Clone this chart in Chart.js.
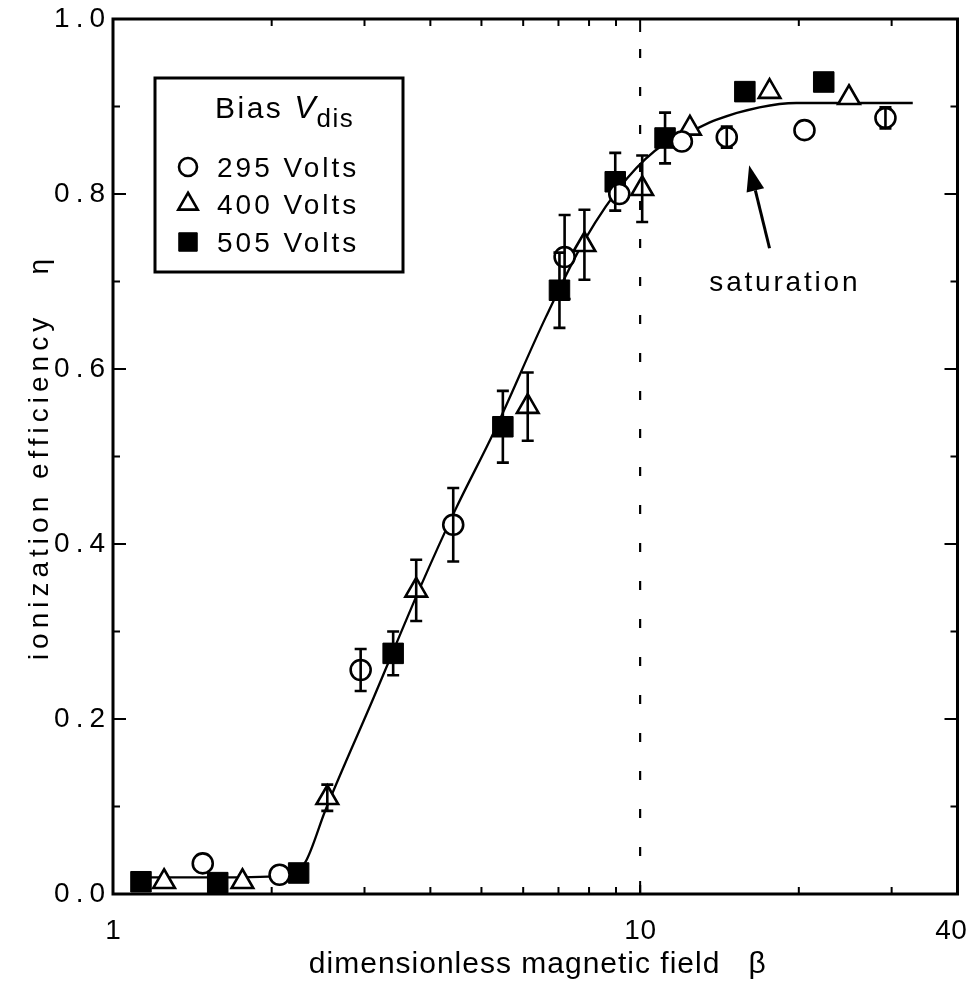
<!DOCTYPE html>
<html>
<head>
<meta charset="utf-8">
<style>
html,body{margin:0;padding:0;background:#fff;}
#wrap{width:973px;height:996px;position:relative;}
</style>
<script src="https://cdn.jsdelivr.net/npm/chart.js@4.4.1/dist/chart.umd.min.js"></script>
</head>
<body>
<div id="wrap"><canvas id="c" width="973" height="996"></canvas></div>
<script>
// ---- data ----
const beta295 = [1.48, 2.07, 2.95, 4.42, 7.19, 9.13, 12.0, 14.6, 20.5, 29.2];
const eta295  = [0.035, 0.022, 0.256, 0.422, 0.728, 0.800, 0.860, 0.865, 0.873, 0.887];
const err295  = [0, 0, 0.024, 0.042, 0.048, 0, 0, 0.012, 0, 0.012];

const beta400 = [1.25, 1.76, 2.55, 3.76, 6.12, 7.84, 10.09, 12.43, 17.6, 24.9];
const eta400  = [0.014, 0.014, 0.110, 0.347, 0.557, 0.742, 0.806, 0.875, 0.917, 0.910];
const err400  = [0, 0, 0.015, 0.035, 0.039, 0.040, 0.038, 0, 0, 0];

const beta505 = [1.13, 1.58, 2.25, 3.40, 5.49, 7.03, 8.97, 11.15, 15.8, 22.3];
const eta505  = [0.014, 0.013, 0.024, 0.275, 0.534, 0.690, 0.814, 0.864, 0.917, 0.928];
const err505  = [0, 0, 0, 0.025, 0.041, 0.043, 0.033, 0.029, 0, 0];

const fitBeta = [1.13, 1.59, 2.16, 2.32, 2.53, 3.12, 3.83, 4.46, 5.30, 6.62, 7.84, 9.45, 11.15, 12.43, 13.97, 16.84, 19.78, 32.9];
const fitEta  = [0.019, 0.019, 0.021, 0.037, 0.096, 0.224, 0.351, 0.439, 0.530, 0.659, 0.747, 0.818, 0.858, 0.871, 0.885, 0.899, 0.904, 0.904];

const refLineBeta = 10;
const xTickValues = [1, 10, 40];
const xMinorValues = [2, 3, 4, 5, 6, 7, 8, 9, 20, 30];
const yMajorValues = [0, 0.2, 0.4, 0.6, 0.8, 1.0];
const yMinorValues = [0.1, 0.3, 0.5, 0.7, 0.9];

const seriesLabels = ['295 Volts', '400 Volts', '505 Volts'];
const legendTitle = 'Bias';
const legendSymbol = 'V';
const legendSub = 'dis';

const annotationText = 'saturation';
const annotationTextAt = [18.7, 0.698];
const arrowTail = [17.6, 0.738];
const arrowTip = [16.1, 0.833];

const xTitle = 'dimensionless magnetic field   \u03B2';
const yTitle = 'ionization efficiency   \u03B7';

// ---- helpers ----
const FONT = "'Liberation Sans', Arial, Helvetica, sans-serif";
const toPts = (bs, es) => bs.map((b, i) => ({x: b, y: es[i]}));
const errs = [err295, err400, err505];

const markerStyles = [
  {pointStyle: 'circle', radius: 10, backgroundColor: '#fff', borderColor: '#000', borderWidth: 2.6},
  {pointStyle: 'triangle', radius: 12.5, backgroundColor: '#fff', borderColor: '#000', borderWidth: 2.6},
  {pointStyle: 'rect', radius: 14.5, backgroundColor: '#000', borderColor: '#000', borderWidth: 1}
];

function scatterDS(label, bs, es, st) {
  return {
    type: 'scatter', label, data: toPts(bs, es),
    pointStyle: st.pointStyle, pointRadius: st.radius, pointHoverRadius: st.radius,
    pointBackgroundColor: st.backgroundColor, pointBorderColor: st.borderColor,
    pointBorderWidth: st.borderWidth, showLine: false
  };
}

function drawText(ctx, str, x, y, o) {
  const size = o.size || 28, ls = o.ls || 0, align = o.align || 'center';
  ctx.save();
  ctx.translate(x, y);
  if (o.rot) ctx.rotate(o.rot);
  ctx.font = (o.italic ? 'italic ' : '') + size + 'px ' + FONT;
  ctx.letterSpacing = ls + 'px';
  ctx.textBaseline = o.baseline || 'middle';
  ctx.textAlign = 'left';
  const w = ctx.measureText(str).width - (ctx.letterSpacing ? ls : 0);
  let sx = align === 'center' ? -w / 2 : align === 'right' ? -w : 0;
  ctx.fillStyle = '#000';
  ctx.fillText(str, sx, 0);
  ctx.restore();
  return w + ls;
}

const decor = {
  id: 'decor',
  afterDatasetsDraw(chart) {
    const ctx = chart.ctx, xs = chart.scales.x, ys = chart.scales.y;
    ctx.save();
    ctx.strokeStyle = '#000'; ctx.lineWidth = 2.6;
    [0, 1, 2].forEach(di => {
      const ds = chart.data.datasets[di];
      ds.data.forEach((p, i) => {
        const e = errs[di][i];
        if (!e) return;
        const px = xs.getPixelForValue(p.x);
        const y1 = ys.getPixelForValue(p.y + e), y2 = ys.getPixelForValue(p.y - e);
        ctx.beginPath();
        ctx.moveTo(px, y1); ctx.lineTo(px, y2);
        ctx.moveTo(px - 6, y1); ctx.lineTo(px + 6, y1);
        ctx.moveTo(px - 6, y2); ctx.lineTo(px + 6, y2);
        ctx.stroke();
      });
    });
    ctx.restore();
  },
  afterDraw(chart) {
    const ctx = chart.ctx, xs = chart.scales.x, ys = chart.scales.y;
    const ca = chart.chartArea;
    ctx.save();
    // frame
    ctx.strokeStyle = '#000'; ctx.lineWidth = 3;
    ctx.strokeRect(ca.left, ca.top, ca.right - ca.left, ca.bottom - ca.top);
    // ticks inward on all four sides
    ctx.lineWidth = 2;
    ctx.beginPath();
    const xt = (v, len) => {
      const px = xs.getPixelForValue(v);
      ctx.moveTo(px, ca.bottom); ctx.lineTo(px, ca.bottom - len);
      ctx.moveTo(px, ca.top); ctx.lineTo(px, ca.top + len);
    };
    const yt = (v, len) => {
      const py = ys.getPixelForValue(v);
      ctx.moveTo(ca.left, py); ctx.lineTo(ca.left + len, py);
      ctx.moveTo(ca.right, py); ctx.lineTo(ca.right - len, py);
    };
    xTickValues.forEach(v => xt(v, 13));
    xMinorValues.forEach(v => xt(v, 7));
    yMajorValues.forEach(v => yt(v, 13));
    yMinorValues.forEach(v => yt(v, 7));
    ctx.stroke();

    // tick labels
    yMajorValues.forEach(v => {
      drawText(ctx, v.toFixed(1), ca.left - 8, ys.getPixelForValue(v), {size: 28, ls: 6, align: 'right'});
    });
    xTickValues.forEach(v => {
      let px = xs.getPixelForValue(v);
      px = Math.min(px, chart.width - 22);
      drawText(ctx, String(v), px, ca.bottom + 37, {size: 28, ls: 0.5});
    });
    // axis titles
    drawText(ctx, xTitle, (ca.left + ca.right) / 2 + 2, ca.bottom + 71, {size: 30, ls: 1});
    drawText(ctx, yTitle, 40, (ca.top + ca.bottom) / 2 + 3, {size: 28, ls: 5, rot: -Math.PI / 2});

    // annotation
    drawText(ctx, annotationText, xs.getPixelForValue(annotationTextAt[0]), ys.getPixelForValue(annotationTextAt[1]), {size: 28, ls: 2.8});
    const tx = xs.getPixelForValue(arrowTail[0]), ty = ys.getPixelForValue(arrowTail[1]);
    const hx = xs.getPixelForValue(arrowTip[0]), hy = ys.getPixelForValue(arrowTip[1]);
    const ang = Math.atan2(hy - ty, hx - tx);
    const hl = 26, hw = 9;
    const bx = hx - hl * Math.cos(ang), by = hy - hl * Math.sin(ang);
    ctx.strokeStyle = '#000'; ctx.fillStyle = '#000';
    ctx.lineWidth = 3;
    ctx.beginPath(); ctx.moveTo(tx, ty); ctx.lineTo(bx, by); ctx.stroke();
    ctx.beginPath();
    ctx.moveTo(hx, hy);
    ctx.lineTo(bx + hw * Math.sin(ang), by - hw * Math.cos(ang));
    ctx.lineTo(bx - hw * Math.sin(ang), by + hw * Math.cos(ang));
    ctx.closePath(); ctx.fill();

    // legend box
    const L = ca.left + 42, T = ca.top + 59, W = 248, H = 194;
    ctx.lineWidth = 3;
    ctx.strokeRect(L, T, W, H);
    let x = L + 60;
    const yb = T + 40;
    x += drawText(ctx, legendTitle + ' ', x, yb, {size: 30, ls: 2.5, align: 'left', baseline: 'alphabetic'});
    x += drawText(ctx, legendSymbol, x, yb, {size: 32, ls: 0, align: 'left', baseline: 'alphabetic', italic: true});
    drawText(ctx, legendSub, x + 1, yb + 9, {size: 26, ls: 1.5, align: 'left', baseline: 'alphabetic'});
    const rows = [T + 99, T + 136, T + 174];
    seriesLabels.forEach((lab, i) => {
      drawText(ctx, lab, L + 62, rows[i], {size: 28, ls: 3, align: 'left', baseline: 'alphabetic'});
      const st = markerStyles[i];
      ctx.fillStyle = st.backgroundColor; ctx.strokeStyle = st.borderColor; ctx.lineWidth = st.borderWidth;
      Chart.helpers.drawPoint(ctx, {pointStyle: st.pointStyle, radius: st.radius * 0.9, borderWidth: st.borderWidth, rotation: 0}, L + 33, rows[i] - 10);
    });
    ctx.restore();
  }
};

Chart.defaults.font.family = FONT;
Chart.defaults.color = '#000';

const zeroPad = s => { s.paddingTop = 0; s.paddingBottom = 0; s.paddingLeft = 0; s.paddingRight = 0; };

new Chart(document.getElementById('c'), {
  data: {
    datasets: [
      scatterDS(seriesLabels[0], beta295, eta295, markerStyles[0]),
      scatterDS(seriesLabels[1], beta400, eta400, markerStyles[1]),
      scatterDS(seriesLabels[2], beta505, eta505, markerStyles[2]),
      {type: 'line', label: 'fit', data: toPts(fitBeta, fitEta), borderColor: '#000', borderWidth: 2.3,
       pointRadius: 0, cubicInterpolationMode: 'monotone', fill: false},
      {type: 'line', label: 'ref', data: [{x: refLineBeta, y: 0}, {x: refLineBeta, y: 1}], borderColor: '#000',
       borderWidth: 2.2, borderDash: [9, 29], pointRadius: 0, fill: false}
    ]
  },
  options: {
    responsive: false,
    animation: false,
    events: [],
    layout: {padding: {top: 19, right: 13, left: 0, bottom: 0}},
    plugins: {legend: {display: false}, tooltip: {enabled: false}},
    scales: {
      x: {
        type: 'logarithmic', min: 1, max: 40,
        afterBuildTicks: s => { s.ticks = xTickValues.map(v => ({value: v})); },
        afterFit: s => { s.height = 102; zeroPad(s); },
        grid: {display: false, drawTicks: false},
        border: {display: false},
        ticks: {display: false},
        title: {display: false}
      },
      y: {
        type: 'linear', min: 0, max: 1,
        afterBuildTicks: s => { s.ticks = yMajorValues.map(v => ({value: v})); },
        afterFit: s => { s.width = 113; zeroPad(s); },
        grid: {display: false, drawTicks: false},
        border: {display: false},
        ticks: {display: false},
        title: {display: false}
      }
    }
  },
  plugins: [decor]
});
</script>
</body>
</html>
